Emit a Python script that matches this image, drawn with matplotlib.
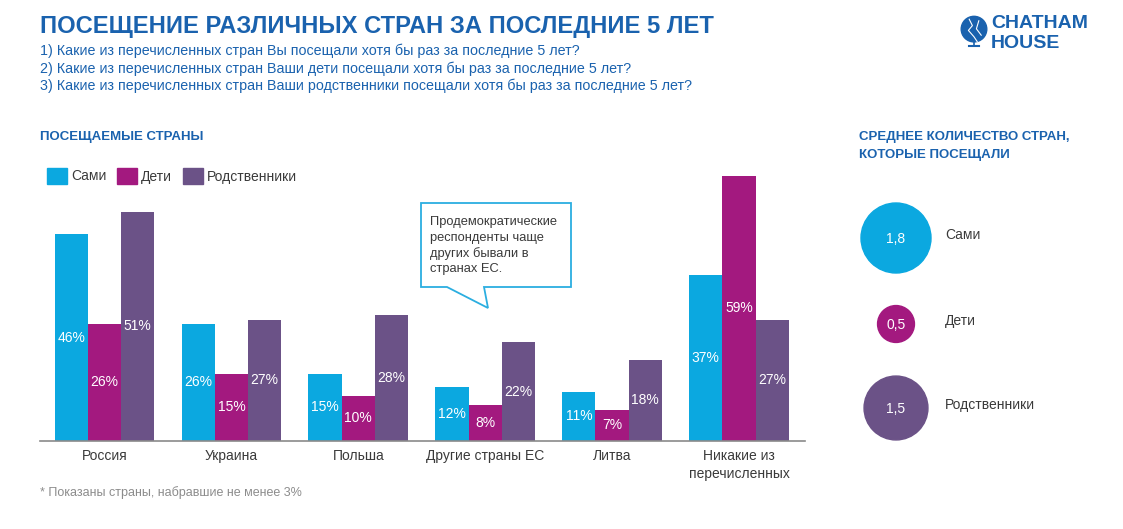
import matplotlib
matplotlib.use("Agg")
import matplotlib.pyplot as plt
import numpy as np
from matplotlib.patches import Circle, Polygon, Rectangle

plt.rcParams['font.family'] = ['Liberation Sans', 'DejaVu Sans']

# ---- data ----
countries = ["Россия", "Украина", "Польша", "Другие страны ЕС", "Литва", "Никакие из\nперечисленных"]
series_names = ["Сами", "Дети", "Родственники"]
sami = [46, 26, 15, 12, 11, 37]
deti = [26, 15, 10, 8, 7, 59]
rodstv = [51, 27, 28, 22, 18, 27]
avg_names = ["Сами", "Дети", "Родственники"]
avg_values = [1.8, 0.5, 1.5]
avg_labels = ["1,8", "0,5", "1,5"]

colors = ["#0BA8E0", "#A3197F", "#6B5287"]
title_blue = "#1A62AE"
text_gray = "#3A3A3A"

W, H = 1123, 529
fig = plt.figure(figsize=(W / 100, H / 100), dpi=100)
fig.patch.set_facecolor("white")

def fx(px):
    return px / W

def fy(py):
    return 1 - py / H

# ---- titles ----
fig.text(fx(40), fy(27), "ПОСЕЩЕНИЕ РАЗЛИЧНЫХ СТРАН ЗА ПОСЛЕДНИЕ 5 ЛЕТ",
         fontsize=17.1, fontweight='bold', color=title_blue, va='center', ha='left')
subs = ["1) Какие из перечисленных стран Вы посещали хотя бы раз за последние 5 лет?",
        "2) Какие из перечисленных стран Ваши дети посещали хотя бы раз за последние 5 лет?",
        "3) Какие из перечисленных стран Ваши родственники посещали хотя бы раз за последние 5 лет?"]
for i, s in enumerate(subs):
    fig.text(fx(40), fy(51 + i * 17.5), s, fontsize=10.3, color=title_blue,
             va='center', ha='left')

fig.text(fx(40), fy(137), "ПОСЕЩАЕМЫЕ СТРАНЫ", fontsize=9.5, fontweight='bold',
         color=title_blue, va='center', ha='left')

# ---- logo ----
lax = fig.add_axes([fx(958), fy(52), fx(32), 40 / H])
lax.set_xlim(-1, 1); lax.set_ylim(-1.2, 1); lax.set_aspect('equal'); lax.axis('off')
lax.add_patch(Circle((0, 0.08), 0.8, color=title_blue))
lax.plot([-0.3, -0.1, -0.35, 0.0, 0.2], [0.7, 0.3, 0.0, -0.4, -0.7], color='white', lw=0.8)
lax.plot([0.3, 0.15, 0.45], [0.6, 0.1, -0.3], color='white', lw=0.8)
lax.plot([0, 0], [-0.72, -1.0], color=title_blue, lw=1.2)
lax.plot([-0.3, 0.3], [-1.0, -1.0], color=title_blue, lw=1.5)
fig.text(fx(991), fy(24), "CHATHAM", fontsize=14, fontweight='bold', color=title_blue,
         va='center', ha='left')
fig.text(fx(991), fy(43), "HOUSE", fontsize=14, fontweight='bold', color=title_blue,
         va='center', ha='left')

# ---- legend ----
leg_x = [47, 117, 183]
for lx, name, c in zip(leg_x, series_names, colors):
    fig.patches.append(Rectangle((fx(lx), fy(184)), fx(20), 16 / H, transform=fig.transFigure,
                                 color=c, figure=fig))
    fig.text(fx(lx + 24), fy(176.5), name, fontsize=10, color=text_gray, va='center', ha='left')

# ---- bar chart ----
ax = fig.add_axes([fx(40), fy(441), fx(765), 270 / H])
x = np.arange(len(countries))
w = 0.262
for off, vals, c in zip([-w, 0, w], [sami, deti, rodstv], colors):
    bars = ax.bar(x + off, vals, width=w, color=c, edgecolor='none')
    for b, v in zip(bars, vals):
        ax.text(b.get_x() + b.get_width() / 2, v / 2, f"{v}%", ha='center', va='center',
                color='white', fontsize=10)
ax.set_xlim(-0.508, 5.52)
ax.set_ylim(0, 60)
for s in ['top', 'right', 'left']:
    ax.spines[s].set_visible(False)
ax.spines['bottom'].set_color('#8A8A8A')
ax.spines['bottom'].set_linewidth(1.2)
ax.set_yticks([])
ax.set_xticks(x)
ax.set_xticklabels(countries, fontsize=10, color=text_gray, linespacing=1.35)
ax.tick_params(axis='x', length=0, pad=6)
ax.patch.set_alpha(0)

# ---- callout ----
call = [(421, 203), (571, 203), (571, 287), (484, 287), (488, 308), (447, 287), (421, 287)]
fig.patches.append(Polygon([(fx(px), fy(py)) for px, py in call], closed=True,
                           transform=fig.transFigure, facecolor='white', edgecolor='#2BAEE0',
                           linewidth=1.3, figure=fig, zorder=5))
callout_lines = ["Продемократические", "респонденты чаще", "других бывали в", "странах ЕС."]
for i, t in enumerate(callout_lines):
    fig.text(fx(430), fy(222 + i * 15.7), t, fontsize=9.3, color=text_gray, va='center',
             ha='left', zorder=6)

# ---- right panel: average number of countries ----
fig.text(fx(859), fy(137), "СРЕДНЕЕ КОЛИЧЕСТВО СТРАН,", fontsize=9.5, fontweight='bold',
         color=title_blue, va='center', ha='left')
fig.text(fx(859), fy(155), "КОТОРЫЕ ПОСЕЩАЛИ", fontsize=9.5, fontweight='bold',
         color=title_blue, va='center', ha='left')

rax = fig.add_axes([fx(840), fy(460), fx(283), 280 / H])
rax.set_xlim(840, 1123)
rax.set_ylim(460, 180)
rax.set_aspect('equal')
rax.axis('off')
ys = [238, 324, 408]
k = 35 / np.sqrt(max(avg_values))
for yy, v, lab, name, c in zip(ys, avg_values, avg_labels, avg_names, colors):
    rax.add_patch(Circle((896, yy), k * np.sqrt(v), color=c))
    rax.text(896, yy + 1, lab, ha='center', va='center', color='white', fontsize=10)
    rax.text(945, yy - 3, name, ha='left', va='center', color=text_gray, fontsize=10)

# ---- footnote ----
fig.text(fx(40), fy(493), "* Показаны страны, набравшие не менее 3%", fontsize=9,
         color='#8C8C8C', va='center', ha='left')

fig.savefig("out.png", dpi=100)
